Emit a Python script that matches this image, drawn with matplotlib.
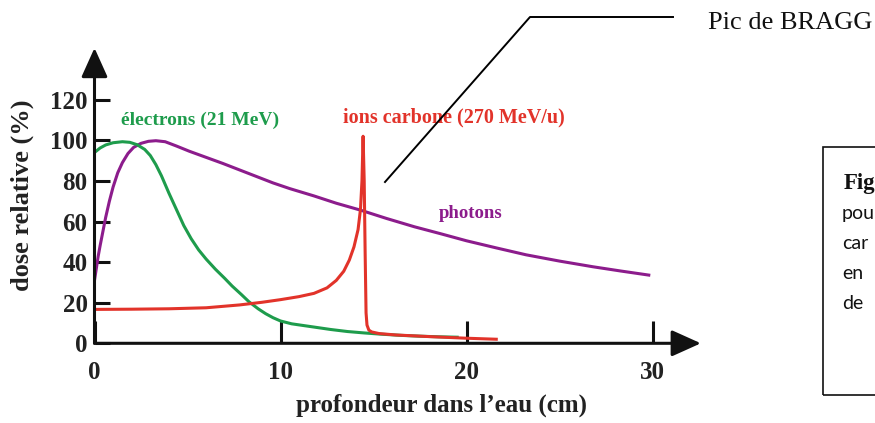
import numpy as np
import matplotlib
matplotlib.use("Agg")
import matplotlib.pyplot as plt
from matplotlib.lines import Line2D
from matplotlib.patches import Rectangle

# depth (cm) / relative dose (%)
x_photons = [0, 0.1, 0.2, 0.3, 0.45, 0.6, 0.8, 1.0, 1.25, 1.5, 1.8, 2.1, 2.5, 2.9,
             3.3, 3.8, 4.4, 5.1, 6.0, 6.9, 7.8, 8.7, 9.6, 10.5, 11.8, 13, 14.3,
             15.7, 17.2, 18.6, 20, 21.6, 23.2, 25, 26.8, 28.3, 29.8]
y_photons = [31, 37, 43, 48, 55, 62, 70, 77, 84, 89, 93.5, 96.5, 98.5, 99.5,
             99.8, 99.3, 97.2, 94.6, 91.6, 88.6, 85.4, 82.2, 79, 76.2, 72.6, 69, 65.6,
             61.5, 57.4, 54, 50.5, 47, 43.6, 40.5, 37.7, 35.6, 33.6]

x_electrons = [0, 0.3, 0.6, 1.0, 1.5, 1.9, 2.3, 2.7, 3.0, 3.3, 3.6, 4.0, 4.4, 4.8,
               5.2, 5.6, 6.0, 6.5, 7.0, 7.4, 7.9, 8.3, 8.8, 9.2, 9.6, 10.0, 10.6,
               11.2, 11.8, 12.7, 13.6, 14.5, 15.4, 16.5, 17.5, 18.5, 19.5]
y_electrons = [94, 96.2, 97.7, 98.8, 99.3, 99, 97.8, 95.5, 92.5, 88, 82.5, 74, 66, 58,
               51.5, 46, 41.5, 36.5, 32, 28.2, 24, 20.5, 17, 14.6, 12.6, 11, 9.6,
               8.8, 8.0, 6.8, 5.8, 5.1, 4.5, 3.9, 3.5, 3.2, 3]

x_carbon = [0, 2, 4, 6, 7.8, 9, 10, 11, 11.8, 12.5, 13.0, 13.4, 13.7, 13.95, 14.17,
            14.3, 14.38, 14.44, 14.5, 14.55, 14.6, 14.65, 14.75, 14.9, 15.3, 16.2,
            18, 20, 21.6]
y_carbon = [16.7, 16.8, 17.0, 17.5, 18.9, 20.2, 21.5, 23, 24.6, 27.3, 31, 35.5, 41,
            47.5, 56, 66, 80, 102, 80, 45, 15, 9, 6.5, 5.6, 4.8, 4.1,
            3.3, 2.5, 2]

xticks = [0, 10, 20, 30]
yticks = [0, 20, 40, 60, 80, 100, 120]

c_ph = '#8c1c8c'
c_el = '#1e9c4c'
c_c = '#e2332a'

W, H = 875, 423
fig = plt.figure(figsize=(W / 100, H / 100), dpi=100)

# axes placed so that the origin falls at pixel (94.5, 343.3)
x0, y0 = 94.5, 343.3
sx, sy = 18.6, 2.03
xmax, ymax = 32.6, 145.5
ax = fig.add_axes([x0 / W, (H - y0) / H, xmax * sx / W, ymax * sy / H])
ax.set_xlim(0, xmax)
ax.set_ylim(0, ymax)
for s in ax.spines.values():
    s.set_visible(False)
ax.patch.set_alpha(0)

lw = 2.2
ax.plot(x_photons, y_photons, color=c_ph, lw=lw, solid_joinstyle='round')
ax.plot(x_electrons, y_electrons, color=c_el, lw=lw, solid_joinstyle='round')
ax.plot(x_carbon, y_carbon, color=c_c, lw=lw, solid_joinstyle='round')

# axes with arrow heads
arr = dict(arrowstyle='-|>,head_length=0.4,head_width=0.18', mutation_scale=45,
           lw=lw, color='#111111', shrinkA=0, shrinkB=0)
ax.annotate('', xy=(0, 1), xytext=(0, 0), xycoords='axes fraction',
            textcoords='axes fraction', arrowprops=arr)
ax.annotate('', xy=(1, 0), xytext=(0, 0), xycoords='axes fraction',
            textcoords='axes fraction', arrowprops=arr)

tfont = dict(family='Liberation Serif', weight='bold')
ax.set_xticks(xticks)
ax.set_yticks(yticks)
ax.set_xticklabels([str(v) for v in xticks], fontsize=18, color='#222222', **tfont)
ax.set_yticklabels([str(v) for v in yticks], fontsize=18, color='#222222', **tfont)
ax.tick_params(axis='x', direction='in', length=16, width=lw, pad=13, color='#111111')
ax.tick_params(axis='y', direction='in', length=10.8, width=lw, pad=5, color='#111111')

ax.text(5.67, 110, 'électrons (21 MeV)', color=c_el, fontsize=14, ha='center',
        va='center', **tfont)
ax.text(19.3, 111, 'ions carbone (270 MeV/u)', color=c_c, fontsize=14.5, ha='center',
        va='center', **tfont)
ax.text(20.2, 63.7, 'photons', color=c_ph, fontsize=13.5, ha='center',
        va='center', **tfont)

fig.text(441 / W, 1 - 405 / H, 'profondeur dans l\u2019eau (cm)', fontsize=18,
         ha='center', va='center', color='#222222', **tfont)
fig.text(22 / W, 1 - 195 / H, 'dose relative (%)', fontsize=19, rotation=90,
         ha='center', va='center', color='#222222', **tfont)

# Bragg peak callout
fig.text(708 / W, 1 - 23 / H, 'Pic de BRAGG', fontsize=19, family='Liberation Serif',
         ha='left', va='center', color='#111111')
fig.add_artist(Line2D([385 / W, 530 / W, 673 / W],
                      [1 - 182 / H, 1 - 17 / H, 1 - 17 / H],
                      transform=fig.transFigure, color='black', lw=1.4))

# caption box cut by the right edge
fig.add_artist(Rectangle((823 / W, 1 - 395 / H), 100 / W, 248 / H,
                         transform=fig.transFigure, fill=False, lw=1.2,
                         edgecolor='#111111'))
fig.text(844 / W, 1 - 183 / H, 'Fig', fontsize=16.5, family='Liberation Serif',
         weight='bold', ha='left', va='center', color='#111111')
for i, t in enumerate(['pou', 'car', 'en', 'de']):
    fig.text(842 / W, 1 - (213 + 30 * i) / H, t, fontsize=14, family='Lato',
             ha='left', va='center', color='#111111')

fig.savefig('out.png', dpi=100)
